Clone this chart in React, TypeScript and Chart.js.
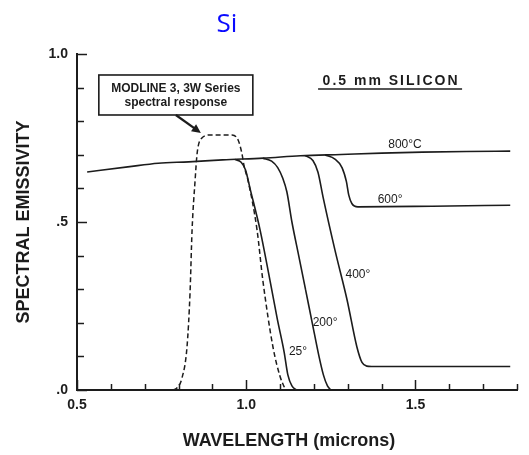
import React, { useEffect, useRef } from "react";
import { Chart, registerables } from "chart.js";

Chart.register(...registerables);

const FONT = '"Liberation Sans", Arial, Helvetica, sans-serif';
const INK = "#1c1c1c";

// Wavelength (microns) and spectral emissivity for each curve
const responseWl = [0.784, 0.797, 0.81, 0.825, 0.834, 0.84, 0.849, 0.855, 0.869, 0.893, 0.958, 0.976, 0.987, 0.994, 1.005, 1.032, 1.049, 1.079, 1.1, 1.114];
const responseEm = [0.0, 0.008, 0.035, 0.128, 0.29, 0.476, 0.625, 0.705, 0.75, 0.759, 0.759, 0.744, 0.705, 0.665, 0.625, 0.476, 0.327, 0.128, 0.04, 0.005];

const t800Wl = [0.53, 0.65, 0.74, 0.83, 0.93, 1.05, 1.16, 1.28, 1.4, 1.52, 1.65, 1.78];
const t800Em = [0.649, 0.664, 0.675, 0.679, 0.685, 0.69, 0.697, 0.701, 0.705, 0.708, 0.71, 0.711];

const t600Wl = [1.233, 1.262, 1.283, 1.296, 1.303, 1.312, 1.33, 1.55, 1.78];
const t600Em = [0.6995, 0.687, 0.662, 0.62, 0.58, 0.555, 0.545, 0.547, 0.55];

const t400Wl = [1.174, 1.197, 1.212, 1.227, 1.262, 1.298, 1.327, 1.342, 1.356, 1.37, 1.78];
const t400Em = [0.6975, 0.683, 0.648, 0.574, 0.417, 0.268, 0.128, 0.082, 0.071, 0.07, 0.07];

const t200Wl = [1.049, 1.075, 1.093, 1.108, 1.12, 1.135, 1.155, 1.175, 1.195, 1.215, 1.228, 1.24, 1.25];
const t200Em = [0.69, 0.681, 0.662, 0.63, 0.59, 0.5, 0.4, 0.3, 0.2, 0.1, 0.045, 0.012, 0.0];

const t25Wl = [0.967, 0.985, 0.998, 1.011, 1.041, 1.07, 1.092, 1.112, 1.123, 1.135, 1.148];
const t25Em = [0.686, 0.678, 0.655, 0.601, 0.476, 0.327, 0.21, 0.113, 0.045, 0.012, 0.0];

// Curve labels: text and anchor (wavelength, emissivity)
const curveLabels = ["800°C", "600°", "400°", "200°", "25°"];
const curveLabelWl = [1.469, 1.425, 1.33, 1.233, 1.153];
const curveLabelEm = [0.729, 0.565, 0.342, 0.199, 0.113];

const xTickMajor = [0.5, 1.0, 1.5];
const yTickText: Record<string, string> = { "0": ".0", "0.5": ".5", "1": "1.0" };

const pts = (xs: number[], ys: number[]) => xs.map((x, i) => ({ x, y: ys[i] }));

const isMajor = (v: number) => Math.abs(v * 2 - Math.round(v * 2)) < 1e-6;

const decorPlugin = {
  id: "decor",
  afterDraw(chart: any) {
    const { ctx, chartArea } = chart;
    const xs = chart.scales.x;
    const ys = chart.scales.y;
    ctx.save();

    // inward tick marks
    ctx.strokeStyle = INK;
    ctx.lineWidth = 1.5;
    xs.ticks.forEach((t: any) => {
      const px = Math.round(xs.getPixelForValue(t.value)) + 0.5;
      const len = isMajor(t.value) ? 10 : 6;
      ctx.beginPath();
      ctx.moveTo(px, chartArea.bottom);
      ctx.lineTo(px, chartArea.bottom - len);
      ctx.stroke();
    });
    ys.ticks.forEach((t: any) => {
      const py = Math.round(ys.getPixelForValue(t.value)) + 0.5;
      const len = isMajor(t.value) ? 10 : 7;
      ctx.beginPath();
      ctx.moveTo(chartArea.left, py);
      ctx.lineTo(chartArea.left + len, py);
      ctx.stroke();
    });

    // title
    ctx.fillStyle = "#0a0aff";
    ctx.font = '26px "Open Sans", "Noto Sans", sans-serif';
    ctx.textAlign = "center";
    ctx.textBaseline = "middle";
    ctx.fillText("Si", 227, 25);

    // axis titles
    ctx.fillStyle = INK;
    ctx.font = `bold 18px ${FONT}`;
    ctx.fillText("WAVELENGTH (microns)", 289, 441);
    ctx.save();
    ctx.translate(24, 222);
    ctx.rotate(-Math.PI / 2);
    ctx.fillText("SPECTRAL EMISSIVITY", 0, 0);
    ctx.restore();

    // sample description
    const sx = xs.getPixelForValue(1.425);
    const sy = ys.getPixelForValue(0.92);
    ctx.font = `bold 14px ${FONT}`;
    (ctx as any).letterSpacing = "2px";
    ctx.fillText("0.5 mm SILICON", sx + 1, sy);
    (ctx as any).letterSpacing = "0px";
    ctx.lineWidth = 1.5;
    ctx.beginPath();
    ctx.moveTo(sx - 72, sy + 8);
    ctx.lineTo(sx + 72, sy + 8);
    ctx.stroke();

    // response box
    const bx = xs.getPixelForValue(0.792);
    const by = ys.getPixelForValue(0.878);
    const bw = 154;
    const bh = 40;
    ctx.lineWidth = 1.6;
    ctx.strokeRect(bx - bw / 2, by - bh / 2, bw, bh);
    ctx.font = `bold 12px ${FONT}`;
    ctx.fillText("MODLINE 3, 3W Series", bx, by - 6);
    ctx.fillText("spectral response", bx, by + 8);

    // arrow to the response curve
    const ax0 = bx;
    const ay0 = by + bh / 2;
    const ax1 = xs.getPixelForValue(0.866);
    const ay1 = ys.getPixelForValue(0.765);
    const ang = Math.atan2(ay1 - ay0, ax1 - ax0);
    ctx.lineWidth = 2.2;
    ctx.beginPath();
    ctx.moveTo(ax0, ay0);
    ctx.lineTo(ax1 - 6 * Math.cos(ang), ay1 - 6 * Math.sin(ang));
    ctx.stroke();
    ctx.beginPath();
    ctx.moveTo(ax1, ay1);
    ctx.lineTo(ax1 - 10 * Math.cos(ang - 0.45), ay1 - 10 * Math.sin(ang - 0.45));
    ctx.lineTo(ax1 - 10 * Math.cos(ang + 0.45), ay1 - 10 * Math.sin(ang + 0.45));
    ctx.closePath();
    ctx.fill();

    // temperature labels
    ctx.font = `12px ${FONT}`;
    curveLabels.forEach((txt, i) => {
      ctx.fillText(txt, xs.getPixelForValue(curveLabelWl[i]), ys.getPixelForValue(curveLabelEm[i]));
    });

    ctx.restore();
  },
};

const lineStyle = {
  borderColor: INK,
  borderWidth: 1.6,
  pointRadius: 0,
  cubicInterpolationMode: "monotone" as const,
  fill: false,
};

export default function App() {
  const ref = useRef<HTMLCanvasElement>(null);

  useEffect(() => {
    if (!ref.current) return;
    const chart = new Chart(ref.current, {
      type: "line",
      data: {
        datasets: [
          { label: "response", data: pts(responseWl, responseEm), ...lineStyle, borderDash: [5, 3], borderWidth: 1.5 },
          { label: "800°C", data: pts(t800Wl, t800Em), ...lineStyle },
          { label: "600°", data: pts(t600Wl, t600Em), ...lineStyle },
          { label: "400°", data: pts(t400Wl, t400Em), ...lineStyle },
          { label: "200°", data: pts(t200Wl, t200Em), ...lineStyle },
          { label: "25°", data: pts(t25Wl, t25Em), ...lineStyle },
        ],
      },
      options: {
        responsive: false,
        animation: false,
        events: [],
        layout: { padding: { top: 54, right: 12, left: 0, bottom: 0 } },
        plugins: { legend: { display: false }, tooltip: { enabled: false }, title: { display: false } },
        scales: {
          x: {
            type: "linear",
            min: 0.5,
            max: 1.8,
            afterFit: (s: any) => {
              s.height = 65;
            },
            grid: { display: false, drawTicks: false },
            border: { display: true, color: INK, width: 2 },
            ticks: {
              stepSize: 0.1,
              autoSkip: false,
              maxRotation: 0,
              padding: 7,
              color: INK,
              font: { family: FONT, size: 14, weight: "bold" },
              callback: (v: any) => {
                const n = Number(v);
                return xTickMajor.some((m) => Math.abs(m - n) < 1e-6) ? n.toFixed(1) : "";
              },
            },
          },
          y: {
            type: "linear",
            min: 0,
            max: 1,
            afterFit: (s: any) => {
              s.width = 77;
            },
            grid: { display: false, drawTicks: false },
            border: { display: true, color: INK, width: 2 },
            ticks: {
              stepSize: 0.1,
              autoSkip: false,
              padding: 9,
              color: INK,
              font: { family: FONT, size: 14, weight: "bold" },
              callback: (v: any) => {
                const n = Math.round(Number(v) * 10) / 10;
                return yTickText[String(n)] ?? "";
              },
            },
          },
        },
      },
      plugins: [decorPlugin],
    });
    return () => chart.destroy();
  }, []);

  return (
    <div style={{ position: "fixed", left: 0, top: 0, width: 529, height: 455, background: "#fff" }}>
      <canvas ref={ref} width={529} height={455} />
    </div>
  );
}
